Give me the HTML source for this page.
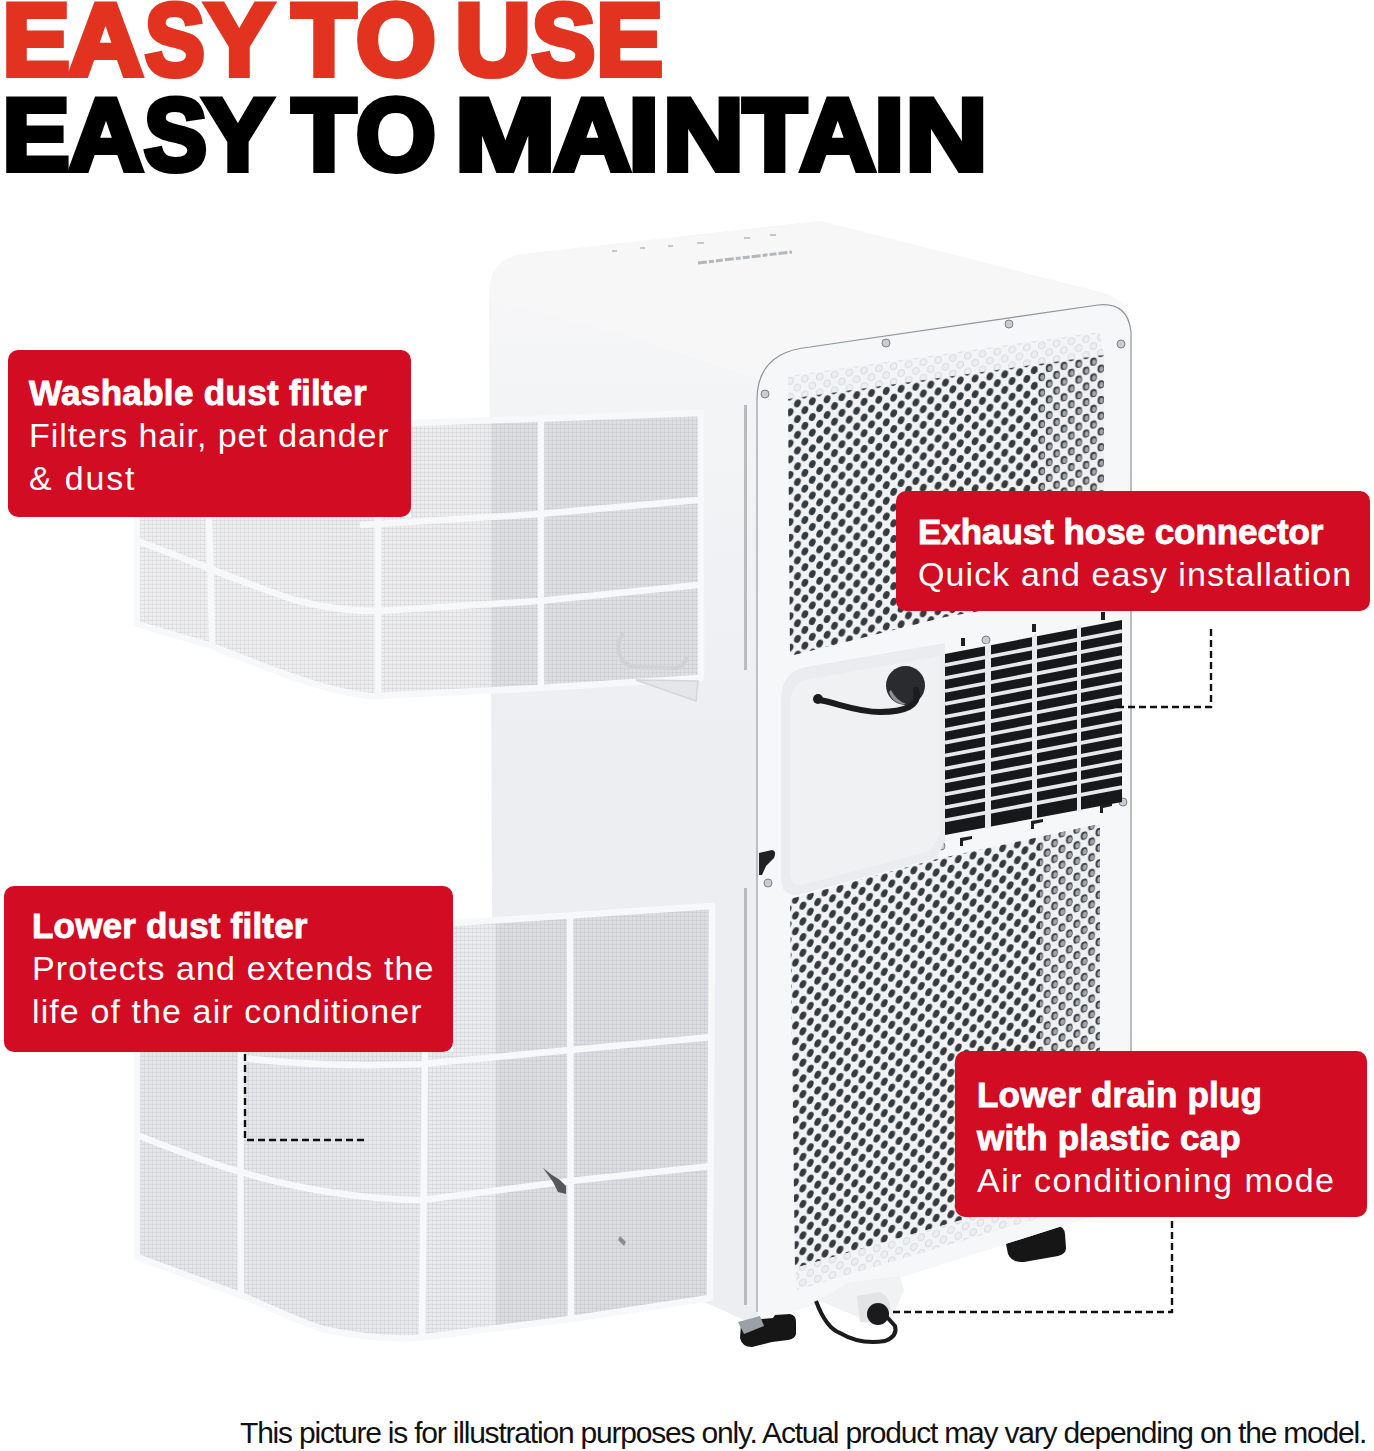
<!DOCTYPE html>
<html><head><meta charset="utf-8">
<style>
html,body{margin:0;padding:0;background:#fff;}
body{width:1374px;height:1451px;position:relative;overflow:hidden;font-family:"Liberation Sans",sans-serif;}
.hl{position:absolute;left:0;top:0;font-weight:bold;font-size:100px;line-height:1;white-space:pre;transform-origin:0 0;-webkit-text-stroke:6px currentColor;}
.red{color:#e1331f;}
.blk{color:#000;}
.box{position:absolute;background:#d20c22;border-radius:10px;}
.t{position:absolute;color:#fff;white-space:nowrap;line-height:1;}
.b{font-weight:bold;font-size:35px;letter-spacing:0.2px;-webkit-text-stroke:0.9px #fff;}
.r{font-size:34px;letter-spacing:1.1px;}
#art{position:absolute;left:0;top:0;}
.foot{position:absolute;font-size:30px;letter-spacing:-1.2px;color:#111;white-space:nowrap;line-height:1;}
</style></head>
<body>
<svg id="art" width="1374" height="1451" viewBox="0 0 1374 1451">
<defs>
  <pattern id="dots" width="14.8" height="15.7" patternUnits="userSpaceOnUse" patternTransform="translate(2,1) skewY(-8)">
    <rect width="14.8" height="15.7" fill="#f1f2f4"/>
    <ellipse cx="3.7" cy="3.9" rx="3.3" ry="4.0" fill="#353a3f" transform="rotate(20 3.7 3.9)"/>
    <ellipse cx="11.1" cy="11.75" rx="3.3" ry="4.0" fill="#353a3f" transform="rotate(20 11.1 11.75)"/>
  </pattern>
  <pattern id="rings" width="14.8" height="15.7" patternUnits="userSpaceOnUse" patternTransform="translate(2,1) skewY(-8)">
    <rect width="14.8" height="15.7" fill="#eef0f2"/>
    <ellipse cx="3.7" cy="3.9" rx="3.4" ry="4.1" fill="#3a3f44"/>
    <ellipse cx="4.3" cy="4.4" rx="2.1" ry="2.6" fill="#a4a8ad"/>
    <ellipse cx="11.1" cy="11.75" rx="3.4" ry="4.1" fill="#3a3f44"/>
    <ellipse cx="11.7" cy="12.25" rx="2.1" ry="2.6" fill="#a4a8ad"/>
  </pattern>
  <pattern id="dotsL" width="14.8" height="15.7" patternUnits="userSpaceOnUse" patternTransform="translate(0,3) skewY(-14)">
    <rect width="14.8" height="15.7" fill="#f1f2f4"/>
    <ellipse cx="3.7" cy="3.9" rx="3.3" ry="4.0" fill="#353a3f" transform="rotate(20 3.7 3.9)"/>
    <ellipse cx="11.1" cy="11.75" rx="3.3" ry="4.0" fill="#353a3f" transform="rotate(20 11.1 11.75)"/>
  </pattern>
  <pattern id="ringsL" width="14.8" height="15.7" patternUnits="userSpaceOnUse" patternTransform="translate(0,3) skewY(-14)">
    <rect width="14.8" height="15.7" fill="#eef0f2"/>
    <ellipse cx="3.7" cy="3.9" rx="3.4" ry="4.1" fill="#3a3f44"/>
    <ellipse cx="4.3" cy="4.4" rx="2.1" ry="2.6" fill="#a4a8ad"/>
    <ellipse cx="11.1" cy="11.75" rx="3.4" ry="4.1" fill="#3a3f44"/>
    <ellipse cx="11.7" cy="12.25" rx="2.1" ry="2.6" fill="#a4a8ad"/>
  </pattern>
  <pattern id="emb" width="14.8" height="15.7" patternUnits="userSpaceOnUse" patternTransform="translate(2,1) skewY(-8)">
    <rect width="14.8" height="15.7" fill="#f3f4f6"/>
    <circle cx="3.7" cy="3.9" r="3.4" fill="#eceef0" stroke="#d3d6da" stroke-width="0.9"/>
    <circle cx="11.1" cy="11.75" r="3.4" fill="#eceef0" stroke="#d3d6da" stroke-width="0.9"/>
  </pattern>
  <pattern id="embL" width="14.8" height="15.7" patternUnits="userSpaceOnUse" patternTransform="translate(0,3) skewY(-14)">
    <rect width="14.8" height="15.7" fill="#f3f4f6"/>
    <circle cx="3.7" cy="3.9" r="3.4" fill="#eceef0" stroke="#d3d6da" stroke-width="0.9"/>
    <circle cx="11.1" cy="11.75" r="3.4" fill="#eceef0" stroke="#d3d6da" stroke-width="0.9"/>
  </pattern>
  <pattern id="mesh" width="4" height="4" patternUnits="userSpaceOnUse">
    <rect width="4" height="1" fill="#9a9da2" fill-opacity="0.16"/>
    <rect width="1" height="4" fill="#9a9da2" fill-opacity="0.14"/>
  </pattern>
  <linearGradient id="filtU" gradientUnits="userSpaceOnUse" x1="0" y1="0" x2="1374" y2="0">
    <stop offset="0" stop-color="#efeff1"/><stop offset="0.3573" stop-color="#ececee"/><stop offset="0.3581" stop-color="#dcdee1"/><stop offset="1" stop-color="#dfe0e4"/>
  </linearGradient>
  <linearGradient id="filtL" gradientUnits="userSpaceOnUse" x1="0" y1="0" x2="1374" y2="0">
    <stop offset="0" stop-color="#e3e4e7"/><stop offset="0.25" stop-color="#e6e7ea"/><stop offset="0.3602" stop-color="#eaebed"/><stop offset="0.3610" stop-color="#dadce0"/><stop offset="1" stop-color="#dcdee2"/>
  </linearGradient>
  <linearGradient id="sideg" gradientUnits="userSpaceOnUse" x1="0" y1="250" x2="0" y2="750">
    <stop offset="0" stop-color="#f7f7f8"/><stop offset="1" stop-color="#eceef1"/>
  </linearGradient>
  <linearGradient id="topg" x1="0" y1="0" x2="0" y2="1">
    <stop offset="0" stop-color="#f6f6f7"/><stop offset="1" stop-color="#f1f2f4"/>
  </linearGradient>
</defs>
<!-- body silhouette / side face -->
<path d="M1006,1244 Q1004,1236 1012,1233 L1055,1226 Q1064,1225 1065,1234 L1066,1248 Q1066,1254 1058,1256 L1024,1262 Q1012,1263 1008,1254 Z" fill="#161616"/>
<path d="M489,295 Q489,258 524,254 L820,221 L1100,292 Q1131,300 1131,335 L1131,1205 L1100,1214 L772,1318 L757,1326 L700,1300 L494,1290 Z" fill="url(#sideg)"/>
<!-- top face -->
<path d="M489,295 Q489,258 524,254 L820,221 L1100,292 Q1131,300 1128,322 L810,347 Q770,352 760,380 L640,340 L489,300 Z" fill="#f7f7f8"/>
<!-- control marks on top -->
<g fill="#c4c7cb">
  <rect x="612" y="250" width="5" height="2"/><rect x="640" y="247" width="5" height="2"/><rect x="668" y="245" width="5" height="2"/>
  <rect x="697" y="242" width="7" height="2"/><rect x="744" y="237" width="6" height="2"/><rect x="770" y="234" width="6" height="2"/>
  <path d="M698,263 L792,252" stroke="#b3b6ba" stroke-width="3" stroke-dasharray="9,2,5,2,7,2"/>
</g>
<!-- groove between side and front -->
<path d="M744,405 L747,405 L747,670 L744,670 Z" fill="#b8bcc1"/>
<path d="M744,888 L747,888 L747,1305 L744,1305 Z" fill="#b8bcc1"/>
<!-- front panel -->
<path d="M757,400 Q757,352 810,347 L1098,305 Q1128,302 1131,332 L1131,1205 L1100,1214 L772,1318 Q757,1323 757,1310 Z" fill="#f6f7f8"/>
<path d="M757,400 Q757,352 810,347 L1098,305 Q1128,302 1131,332 L1131,1205" fill="none" stroke="#8f9398" stroke-width="1.2"/>
<path d="M757,400 L757,1312" fill="none" stroke="#a9adb2" stroke-width="1.5"/>
<path d="M759,853 L772,850 Q777,851 774,858 L766,866 L762,875 L759,875 Z" fill="#222"/>
<!-- embossed rim dots (light) band -->
<path d="M788,376 L1100,332 L1104,357 L788,401 Z" fill="url(#emb)"/>
<!-- upper grille -->
<path d="M788,399 L1104,355 L1104,590 L945,617 L790,656 Z" fill="url(#dots)"/>
<path d="M1037,365 L1104,355 L1104,590 L1037,602 Z" fill="url(#rings)"/>
<!-- lower grille -->
<path d="M790,899 L937,859 L1100,824 L1100,1180 L795,1268 Z" fill="url(#dotsL)"/>
<path d="M1040,837 L1100,824 L1100,1180 L1040,1197 Z" fill="url(#ringsL)"/>
<path d="M795,1268 L1100,1180 L1100,1200 L797,1290 Z" fill="url(#embL)"/>
<!-- screws -->
<g fill="#c9ccd0" stroke="#7d8186" stroke-width="1">
  <circle cx="765" cy="394" r="4"/><circle cx="886" cy="343" r="4"/><circle cx="1009" cy="324" r="4"/><circle cx="1121" cy="344" r="4"/>
  <circle cx="986" cy="640" r="4"/><circle cx="1123" cy="802" r="4"/><circle cx="941" cy="846" r="4"/><circle cx="768" cy="883" r="4"/>
</g>
<!-- side panel -->
<path d="M781,700 Q781,672 806,667 L945,643 L945,840 L937,858 L801,894 Q781,898 781,878 Z" fill="#eaecef"/>
<path d="M790,705 Q790,683 810,679 L940,656 L940,835 L930,851 L806,884 Q790,888 790,872 Z" fill="#f0f1f3"/>
<!-- vent -->
<path d="M945,654 L1122,620 L1122,802 L945,835 Z" fill="#17181a"/>
<g stroke="#e6e8eb" stroke-width="3.8">
  <line x1="945" y1="665.1" x2="1122" y2="631.2"/>
  <line x1="945" y1="678.1" x2="1122" y2="644.2"/>
  <line x1="945" y1="691.0" x2="1122" y2="657.2"/>
  <line x1="945" y1="703.9" x2="1122" y2="670.2"/>
  <line x1="945" y1="716.8" x2="1122" y2="683.2"/>
  <line x1="945" y1="729.8" x2="1122" y2="696.2"/>
  <line x1="945" y1="742.7" x2="1122" y2="709.2"/>
  <line x1="945" y1="755.6" x2="1122" y2="722.2"/>
  <line x1="945" y1="768.6" x2="1122" y2="735.2"/>
  <line x1="945" y1="781.5" x2="1122" y2="748.2"/>
  <line x1="945" y1="794.4" x2="1122" y2="761.2"/>
  <line x1="945" y1="807.3" x2="1122" y2="774.2"/>
  <line x1="945" y1="820.3" x2="1122" y2="787.2"/>
</g>
<g fill="#e8eaed">
  <path d="M985,644 L991,643 L991,828 L985,829 Z"/>
  <path d="M1032,635 L1037,634 L1037,820 L1032,821 Z"/>
  <path d="M1077,626 L1081,625 L1081,811 L1077,812 Z"/>
</g>
<g fill="#1e1f21">
  <rect x="961" y="638" width="4" height="8"/><rect x="1032" y="624" width="4" height="8"/><rect x="1101" y="612" width="4" height="8"/>
  <path d="M960,846 L960,838 L972,836 L972,839 L963,841 L963,846 Z"/><path d="M1031,829 L1031,821 L1043,819 L1043,822 L1034,824 L1034,829 Z"/><path d="M1100,813 L1100,805 L1112,803 L1112,806 L1103,808 L1103,813 Z"/>
</g>
<!-- cable & hole -->
<circle cx="905.5" cy="685.5" r="19.5" fill="#2a2b2e"/>
<path d="M889,692 Q893,705 906,704 Q896,700 891,690 Z" fill="#8c8f94"/>
<path d="M818,699.5 C840,704 858,712 880,712 C904,712 921,706 916,690" fill="none" stroke="#1c1c1e" stroke-width="6" stroke-linecap="round"/>
<circle cx="818" cy="699" r="5" fill="#1c1c1e"/>
<!-- upper filter -->
<g>
  <path d="M137,517 L411,517 L411,423 L701,413 L701,678 L539,688 L373,696 C330,694 262,666 212,646 L137,624 Z" fill="url(#filtU)"/>
  <path d="M137,517 L411,517 L411,423 L701,413 L701,678 L539,688 L373,696 C330,694 262,666 212,646 L137,624 Z" fill="url(#mesh)"/>
  <g fill="none" stroke="#f7f8f9" stroke-width="6.5" stroke-linejoin="round">
    <path d="M411,423 L701,413 L701,678 L539,688 L373,696 C330,694 262,666 212,646 L137,624 L137,517"/>
    <path d="M137,541 C175,554 250,586 295,600 Q335,611 378,611 L539,601 L698,585"/>
    <path d="M360,525 L539,514 L698,500"/>
    <path d="M378,517 L378,696"/>
    <path d="M541,418 L541,688"/>
    <path d="M209,517 Q211,580 212,646"/>
  </g>
</g>
<path d="M624,634 Q618,636 619,650 Q620,664 634,667 L676,668 Q686,666 686,656" fill="none" stroke="#cfd1d5" stroke-width="4"/>
<path d="M636,680 L698,681 L696,701 Z" fill="#e4e6e9" stroke="#d4d6da" stroke-width="1.5"/>
<!-- lower filter -->
<g>
  <path d="M137,1052 L453,1052 L453,923 L712,906 L710,1298 L571,1319 L418,1338 C380,1340 345,1334 322,1329 C290,1318 260,1303 240,1295 L137,1257 Z" fill="url(#filtL)"/>
  <path d="M137,1052 L453,1052 L453,923 L712,906 L710,1298 L571,1319 L418,1338 C380,1340 345,1334 322,1329 C290,1318 260,1303 240,1295 L137,1257 Z" fill="url(#mesh)"/>
  <g fill="none" stroke="#f7f8f9" stroke-width="6.5" stroke-linejoin="round">
    <path d="M453,923 L712,906 L710,1298 L571,1319 L418,1338 C380,1340 345,1334 322,1329 C290,1318 260,1303 240,1295 L137,1257 L137,1052"/>
    <path d="M137,1135 C175,1150 215,1165 241,1172 C300,1190 370,1200 422,1200 L570,1181 L712,1166"/>
    <path d="M241,1058 Q330,1068 422,1064 L570,1050 L712,1037"/>
    <path d="M425,1052 L422,1338"/>
    <path d="M570,918 L571,1319"/>
    <path d="M241,1052 Q240,1180 241,1295"/>
  </g>
</g>
<path d="M543,1168 L552,1175 L560,1180 L566,1186 L566,1194 L558,1192 L553,1182 Z" fill="#54585d"/>
<path d="M620,1236 L626,1242 L624,1246 L618,1240 Z" fill="#8a8d91"/>
<!-- wheels -->
<path d="M741,1324 L752,1320 L773,1318 L775,1315 L790,1314 Q796,1315 796,1322 L796,1334 Q795,1339 788,1340 L772,1342 L752,1347 Q742,1347 740,1338 Z" fill="#161616"/>
<path d="M738,1322 L760,1316 L764,1326 L744,1334 Z" fill="#9aa0a6"/>
<!-- drain -->
<path d="M818,1300 L850,1282 L900,1276 L904,1290 L890,1322 L860,1318 Z" fill="#f1f2f3"/>
<path d="M857,1296 L880,1292 Q892,1298 890,1312 Q887,1322 874,1323 L860,1322 Z" fill="#e2e4e6"/>
<circle cx="878" cy="1314" r="11" fill="#1b1b1d"/>
<path d="M816,1301 Q826,1328 840,1333 Q860,1345 885,1341 Q898,1336 895,1326 L886,1316" fill="none" stroke="#1b1b1d" stroke-width="4"/>
<!-- dashed leader lines -->
<g fill="none" stroke="#111" stroke-width="2.4" stroke-dasharray="7,4">
  <path d="M1106,707 L1211,707 L1211,628"/>
  <path d="M245,1054 L245,1140 L368,1140"/>
  <path d="M893,1312 L1172,1312 L1172,1220"/>
</g>
</svg>

<!--HEAD-->
<div class="hl red" style="transform:matrix(1.0081,0,0,1.0173,2.47,-11.62)">E</div>
<div class="hl red" style="transform:matrix(1.0405,0,0,1.0173,68.04,-11.62)">A</div>
<div class="hl red" style="transform:matrix(0.8955,0,0,1.0173,144.90,-11.62)">S</div>
<div class="hl red" style="transform:matrix(1.0274,0,0,1.0173,205.08,-11.62)">Y</div>
<div class="hl red" style="transform:matrix(1.0462,0,0,1.0173,292.09,-11.62)">T</div>
<div class="hl red" style="transform:matrix(1.0263,0,0,1.0173,355.97,-11.62)">O</div>
<div class="hl red" style="transform:matrix(1.0455,0,0,1.0173,455.16,-11.62)">U</div>
<div class="hl red" style="transform:matrix(0.9522,0,0,1.0173,531.75,-11.62)">S</div>
<div class="hl red" style="transform:matrix(0.9984,0,0,1.0173,596.31,-11.62)">E</div>
<div class="hl blk" style="transform:matrix(1.0048,0,0,1.0267,2.48,82.86)">E</div>
<div class="hl blk" style="transform:matrix(1.0324,0,0,1.0267,68.73,82.86)">A</div>
<div class="hl blk" style="transform:matrix(0.9448,0,0,1.0267,143.94,82.86)">S</div>
<div class="hl blk" style="transform:matrix(1.0466,0,0,1.0267,202.94,82.86)">Y</div>
<div class="hl blk" style="transform:matrix(1.0462,0,0,1.0267,292.09,82.86)">T</div>
<div class="hl blk" style="transform:matrix(1.0263,0,0,1.0267,355.97,82.86)">O</div>
<div class="hl blk" style="transform:matrix(1.2053,0,0,1.0267,454.98,82.86)">M</div>
<div class="hl blk" style="transform:matrix(1.0622,0,0,1.0267,554.06,82.86)">A</div>
<div class="hl blk" style="transform:matrix(1.1000,0,0,1.0267,628.60,82.86)">I</div>
<div class="hl blk" style="transform:matrix(1.1188,0,0,1.0267,662.92,82.86)">N</div>
<div class="hl blk" style="transform:matrix(1.0400,0,0,1.0267,742.98,82.86)">T</div>
<div class="hl blk" style="transform:matrix(1.0473,0,0,1.0267,800.05,82.86)">A</div>
<div class="hl blk" style="transform:matrix(1.0750,0,0,1.0267,874.20,82.86)">I</div>
<div class="hl blk" style="transform:matrix(1.1344,0,0,1.0267,905.46,82.86)">N</div>
<!--/HEAD-->

<div class="box" style="left:8px;top:350px;width:403px;height:167px;"></div>
<div class="t b" style="left:29px;top:375px;letter-spacing:0.33px;">Washable dust filter</div>
<div class="t r" style="left:29px;top:418px;letter-spacing:0.93px;">Filters hair, pet dander</div>
<div class="t r" style="left:29px;top:461px;letter-spacing:1.8px;">&amp; dust</div>

<div class="box" style="left:896px;top:491px;width:474px;height:120px;"></div>
<div class="t b" style="left:918px;top:514px;letter-spacing:-0.05px;">Exhaust hose connector</div>
<div class="t r" style="left:918px;top:557px;">Quick and easy installation</div>

<div class="box" style="left:4px;top:886px;width:449px;height:166px;"></div>
<div class="t b" style="left:32px;top:908px;">Lower dust filter</div>
<div class="t r" style="left:32px;top:951px;">Protects and extends the</div>
<div class="t r" style="left:32px;top:994px;">life of the air conditioner</div>

<div class="box" style="left:955px;top:1051px;width:412px;height:166px;"></div>
<div class="t b" style="left:977px;top:1077px;">Lower drain plug</div>
<div class="t b" style="left:977px;top:1120px;">with plastic cap</div>
<div class="t r" style="left:977px;top:1163px;letter-spacing:1.5px;">Air conditioning mode</div>

<div class="foot" style="left:240px;top:1418px;">This picture is for illustration purposes only. Actual product may vary depending on the model.</div>
</body></html>
